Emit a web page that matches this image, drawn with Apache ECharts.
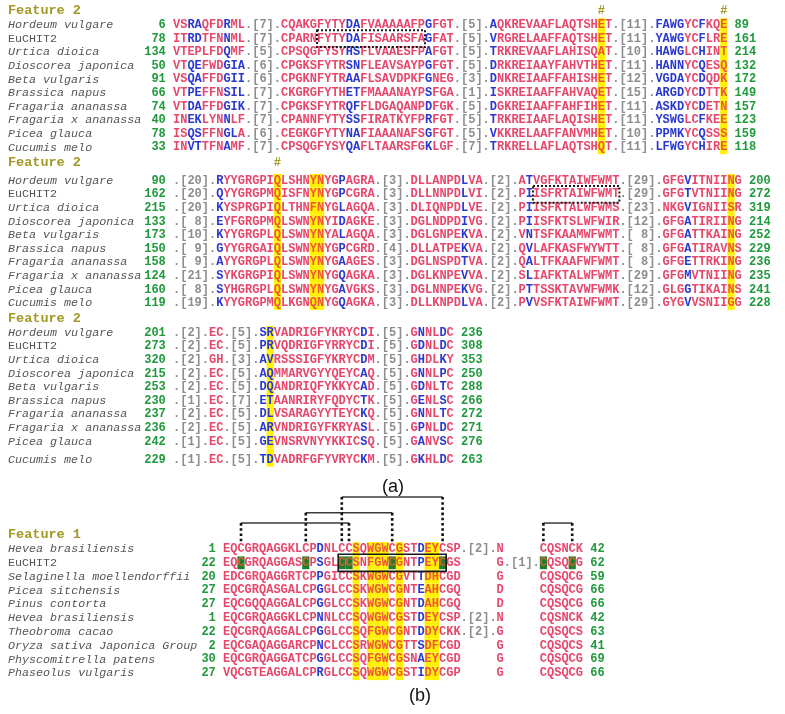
<!DOCTYPE html>
<html>
<head>
<meta charset="utf-8">
<script src="https://cdn.jsdelivr.net/npm/echarts@6/dist/echarts.min.js"></script>
<style>html,body{margin:0;padding:0;background:#fff}#c{width:785px;height:714px}</style>
</head>
<body>
<div id="c"></div>
<script>
// ================= DATA =================
// Upper-case = red residue, lower-case = blue residue, ".[n]." = gap markers (grey)
const aNames = ['Hordeum vulgare','EuCHIT2','Urtica dioica','Dioscorea japonica','Beta vulgaris',
  'Brassica napus','Fragaria ananassa','Fragaria x ananassa','Picea glauca','Cucumis melo'];

// (a) Feature 2 – block 1
const a1Start = [6,78,134,50,91,66,74,40,78,33];
const a1End   = [89,161,214,132,172,149,157,123,159,118];
const a1Seq = [
  'VSraQFDrML.[7].CQAKGFYTYdaFVAAAAAFPgFGT.[5].aQKREVAAFLAQTSHET.[11].fawgYCfKQE',
  'ITrdTFNnML.[7].CPARNFYTYdaFISAARSFAgFAT.[5].vRGRELAAFFAQTSHET.[11].yawgYCfLRE',
  'VTEPLFDqMF.[5].CPSQGFYSYhsFLVAAESFPaFGT.[5].tRKREVAAFLAHISQAT.[10].hawgLChINT',
  'VTqeFWDgia.[6].CPGKSFYTRsnFLEAVSAYPgFGT.[5].dRKREIAAYFAHVTHET.[11].hannYCqESQ',
  'VSqaFFDgii.[6].CPGKNFYTRaaFLSAVDPKFgNEG.[3].dNKREIAAFFAHISHET.[12].vgdaYCdQDK',
  'VTpeFFNsil.[7].CKGRGFYTHetFMAAANAYPsFGA.[1].iSKREIAAFFAHVAQET.[15].argdYCdTTK',
  'VTdaFFDgik.[7].CPGKSFYTRqfFLDGAQANPdFGK.[5].dGKREIAAFFAHFIHET.[11].askdYCdETN',
  'INekLYNnLF.[7].CPANNFYTYssFIRATKYFPrFGT.[5].tRKREIAAFLAQISHET.[11].yswgLCfKEE',
  'ISqsFFNglA.[6].CEGKGFYTYnaFIAAANAFSgFGT.[5].vKKRELAAFFANVMHET.[10].ppmkYCqSSS',
  'INvtTFNaMF.[7].CPSQGFYSYqaFLTAARSFGkLGF.[7].tRKRELLAFLAQTSHQT.[11].lfwgYChIRE'
];
const a1Marks  = [59, 76];          // '#' columns
const a1Yellow = [59, 76];          // highlighted columns
const a1Box    = [1, 20, 35];       // row, first column, end column (dotted box)

// (a) Feature 2 – block 2
const a2Start = [90,162,215,133,173,150,158,124,160,119];
const a2End   = [200,272,319,214,252,229,236,235,241,228];
const a2Seq = [
  '.[20].rYYGRGPIQLSHNYNYGpAGRA.[3].DLLANPDlVA.[2].AtVGFKTAIWFWMT.[29].GFGvITNIING',
  '.[20].qYYGRGPMQISFNYNYGpCGRA.[3].DLLNNPDlVI.[2].PiISFRTAIWFWMT.[29].GFGtVTNIING',
  '.[20].kYSPRGPIQLTHNFNYGlAGQA.[3].DLIQNPDlVE.[2].PiISFKTALWFWMS.[23].NKGvIGNIISR',
  '.[ 8].eYFGRGPMQLSWNYNYIdAGKE.[3].DGLNDPDiVG.[2].PiISFKTSLWFWIR.[12].GFGaTIRIING',
  '.[10].kYYGRGPLQLSWNYNYAlAGQA.[3].DGLGNPEkVA.[2].VnTSFKAAMWFWMT.[ 8].GFGaTTKAING',
  '.[ 9].gYYGRGAIQLSWNYNYGpCGRD.[4].DLLATPEkVA.[2].QvLAFKASFWYWTT.[ 8].GFGaTIRAVNS',
  '.[ 9].aYYGRGPLQLSWNYNYGaAGES.[3].DGLNSPDtVA.[2].QaLTFKAAFWFWMT.[ 8].GFGeTTRKING',
  '.[21].sYKGRGPIQLSWNYNYGqAGKA.[3].DGLKNPEvVA.[2].SlIAFKTALWFWMT.[29].GFGmVTNIING',
  '.[ 8].sYHGRGPLQLSWNYNYGaVGKS.[3].DGLNNPEkVG.[2].PtTSSKTAVWFWMK.[12].GLGgTIKAINS',
  '.[19].kYYGRGPMQLKGNQNYGqAGKA.[3].DLLKNPDlVA.[2].PvVSFKTAIWFWMT.[29].GYGvVSNIIGG'
];
const a2Marks  = [14];
const a2Yellow = [14, 19, 20, 77];
const a2Box    = [1, 50, 62];

// (a) Feature 2 – block 3
const a3Start = [201,273,320,215,253,230,237,236,242,229];
const a3End   = [236,308,353,250,288,266,272,271,276,263];
const a3Seq = [
  '.[2].EC.[5].srVADRIGFYKRYCdI.[5].GnNLdC',
  '.[2].EC.[5].prVQDRIGFYRRYCdI.[5].GdNLdC',
  '.[2].GH.[3].avRSSSIGFYKRYCdM.[5].GhDLkY',
  '.[2].EC.[5].aqMMARVGYYQEYCaQ.[5].GnNLpC',
  '.[2].EC.[5].dqANDRIQFYKKYCaD.[5].GdNLtC',
  '.[1].EC.[7].etAANRIRYFQDYCtK.[5].GeNLsC',
  '.[2].EC.[5].dlVSARAGYYTEYCkQ.[5].GnNLtC',
  '.[2].EC.[5].arVNDRIGYFKRYAsL.[5].GpNLdC',
  '.[1].EC.[5].geVNSRVNYYKKICsQ.[5].GaNVsC',
  '.[1].EC.[5].tdVADRFGFYVRYCkM.[5].GkHLdC'
];
const a3Marks  = [];
const a3Yellow = [13];

// (b) Feature 1
const bNames = ['Hevea brasiliensis','EuCHIT2','Selaginella moellendorffii','Picea sitchensis','Pinus contorta',
  'Hevea brasiliensis','Theobroma cacao','Oryza sativa Japonica Group','Physcomitrella patens','Phaseolus vulgaris'];
const bStart = [1,22,20,27,27,1,22,2,30,27];
const bEnd   = [42,62,59,66,66,42,63,41,69,66];
const bSeq = [
  'EQCGRQAGGKLCPdNLCCSQWGWCGSTdEYCSP.[2].N     CQSNCK',
  'EQCGRQAGGASCPsGLCCSNFGWCGNTpEYCGS     G.[1].CQSQCG',
  'EDCGRQAGGRTCPpGICCSKWGWCGVTtDHCGD     G     CQSQCG',
  'EQCGRQASGALCPgGLCCSKWGWCGNTeAHCGQ     D     CQSQCG',
  'EQCGQQAGGALCPgGLCCSKWGWCGNTdAHCGQ     D     CQSQCG',
  'EQCGRQAGGKLCPnNLCCSQWGWCGSTdEYCSP.[2].N     CQSNCK',
  'EQCGRQAGGALCPgGLCCSQFGWCGNTdDYCKK.[2].G     CQSQCS',
  'EQCGAQAGGARCPnCLCCSRWGWCGTTsDFCGD     G     CQSQCS',
  'EQCGRQAGGATCPgGLCCSQFGWCGSNaEYCGD     G     CQSQCG',
  'VQCGTEAGGALCPrGLCCSQWGWCGSTiDYCGP     G     CQSQCG'
];
const bYellow = [18, 20, 21, 22, 24, 28, 29];
const bGreen  = [[1,2],[1,11],[1,16],[1,17],[1,23],[1,30],[1,44],[1,48]]; // row, column
const bBox    = [1, 16, 31];
const bBonds  = [[2,17],[11,23],[16,30],[44,48]];   // disulfide cysteine columns

// ================= STYLE / LAYOUT =================
const RED='#e8476c', BLUE='#2a38d2', GRAY='#8d8d8d', GREEN='#1f9a3c', NAMEC='#555555',
      OLIVE='#a3992b', YEL='#fff100', DKG='#1f7d2d', RED_ON_YEL='#f0573a', ON_GREEN='#c7662a';
const MONO = '"Liberation Mono","DejaVu Sans Mono",monospace';
const SEQF = 'bold 12px ' + MONO;
const NAMEF_I = 'italic 11.7px ' + MONO;
const NAMEF = '11.7px ' + MONO;
const HEADF = 'bold 13.5px ' + MONO;

function charColor(ch){
  if (/[.\[\]0-9]/.test(ch)) return GRAY;
  if (ch >= 'a' && ch <= 'z') return BLUE;
  return RED;
}

const blocks = [
  {grid:0, line0:0,     head:-1.03, header:'Feature 2', nameCol:-22.92, names:aNames, starts:a1Start, ends:a1End, seqs:a1Seq, yellow:a1Yellow, marks:a1Marks},
  {grid:0, line0:11.45, head:10.15, header:'Feature 2', nameCol:-22.92, names:aNames, starts:a2Start, ends:a2End, seqs:a2Seq, yellow:a2Yellow, marks:a2Marks},
  {grid:0, line0:22.63, head:21.62, header:'Feature 2', nameCol:-22.92, names:aNames, starts:a3Start, ends:a3End, seqs:a3Seq, yellow:a3Yellow, marks:a3Marks,
   extra:[0,0,0,0,0,0,0,0,0,0.35]},
  {grid:1, line0:0,     head:-1.01, header:'Feature 1', nameCol:-29.86, names:bNames, starts:bStart, ends:bEnd, seqs:bSeq, yellow:bYellow, marks:[], green:bGreen}
];

function rowsSeries(b){
  return {
    type:'custom', xAxisIndex:b.grid, yAxisIndex:b.grid, clip:false, silent:true, z:2,
    data: b.seqs.map((s,i)=>[0,i]),
    renderItem(params, api){
      const i = api.value(1);
      const extra = (b.extra && b.extra[i]) || 0;
      const line = b.line0 + i + extra;
      const u = api.size([1,1]); const cw=u[0], rh=u[1];
      const seq = b.seqs[i];
      const kids = [];
      const greenCols = (b.green||[]).filter(g=>g[0]===i).map(g=>g[1]);
      b.yellow.forEach(c=>{
        const p = api.coord([c, line]);
        kids.push({type:'rect', shape:{x:p[0], y:p[1]-rh/2-extra*rh, width:cw, height:rh*(1+extra)}, style:{fill:YEL}});
      });
      greenCols.forEach(c=>{
        const p = api.coord([c, line]);
        kids.push({type:'rect', shape:{x:p[0], y:p[1]-rh/2+0.5, width:cw, height:rh-1}, style:{fill:DKG}});
      });
      for (let k=0;k<seq.length;k++){
        const ch = seq[k]; if (ch===' ') continue;
        const p = api.coord([k+0.5, line]);
        let col = charColor(ch);
        if (col===RED && b.yellow.indexOf(k)>=0) col = RED_ON_YEL;
        if (greenCols.indexOf(k)>=0) col = ON_GREEN;
        kids.push({type:'text', x:p[0], y:p[1], style:{text:ch.toUpperCase(), fill:col, font:SEQF, align:'center', verticalAlign:'middle'}});
      }
      const pn = api.coord([b.nameCol, line]);
      const nm = b.names[i];
      kids.push({type:'text', x:pn[0], y:pn[1], style:{text:nm, fill:NAMEC, font:(nm==='EuCHIT2'?NAMEF:NAMEF_I), align:'left', verticalAlign:'middle'}});
      const ps = api.coord([-1, line]);
      kids.push({type:'text', x:ps[0], y:ps[1], style:{text:String(b.starts[i]), fill:GREEN, font:SEQF, align:'right', verticalAlign:'middle'}});
      const pe = api.coord([seq.length+1, line]);
      kids.push({type:'text', x:pe[0], y:pe[1], style:{text:String(b.ends[i]), fill:GREEN, font:SEQF, align:'left', verticalAlign:'middle'}});
      return {type:'group', children:kids};
    }
  };
}

function headerSeries(b){
  return {
    type:'custom', xAxisIndex:b.grid, yAxisIndex:b.grid, clip:false, silent:true, z:3,
    data:[[0,0]],
    renderItem(params, api){
      const kids = [];
      const p = api.coord([b.nameCol, b.head]);
      kids.push({type:'text', x:p[0], y:p[1], style:{text:b.header, fill:OLIVE, font:HEADF, align:'left', verticalAlign:'middle'}});
      b.marks.forEach(c=>{
        const q = api.coord([c+0.5, b.head]);
        kids.push({type:'text', x:q[0], y:q[1], style:{text:'#', fill:OLIVE, font:SEQF, align:'center', verticalAlign:'middle'}});
      });
      return {type:'group', children:kids};
    }
  };
}

// boxes: [blockIndex, box, dashed]
const boxList = [[0, a1Box, true],[1, a2Box, true],[3, bBox, false]];
function boxSeries(gridIdx){
  const list = boxList.filter(d=>blocks[d[0]].grid===gridIdx);
  return {
    type:'custom', xAxisIndex:gridIdx, yAxisIndex:gridIdx, clip:false, silent:true, z:4,
    data: list.map((d,i)=>[0,i]),
    renderItem(params, api){
      const d = list[api.value(1)];
      const b = blocks[d[0]], bx = d[1];
      const line = b.line0 + bx[0];
      const p0 = api.coord([bx[1], line-0.62]);
      const p1 = api.coord([bx[2], line+0.62]);
      return {type:'rect', shape:{x:p0[0], y:p0[1], width:p1[0]-p0[0], height:p1[1]-p0[1]},
        style:{fill:null, stroke:'#1a1a1a', lineWidth:d[2]?2:1.6, lineDash:d[2]?[2,2]:null}};
    }
  };
}

const bondLevels = [-1.88, -2.62, -3.77, -1.88];
const bondFoot = -0.43;
const bondSeries = {
  type:'custom', xAxisIndex:1, yAxisIndex:1, clip:false, silent:true, z:3,
  data: bBonds.map((d,i)=>[0,i]),
  renderItem(params, api){
    const i = api.value(1);
    const pr = bBonds[i], lv = bondLevels[i];
    const a = api.coord([pr[0]+0.5, lv]), c = api.coord([pr[1]+0.5, lv]);
    const fa = api.coord([pr[0]+0.5, bondFoot]), fc = api.coord([pr[1]+0.5, bondFoot]);
    return {type:'group', children:[
      {type:'line', shape:{x1:a[0], y1:a[1], x2:c[0], y2:c[1]}, style:{stroke:'#3a3a3a', lineWidth:1.5}},
      {type:'line', shape:{x1:a[0], y1:a[1], x2:fa[0], y2:fa[1]}, style:{stroke:'#111', lineWidth:2.6, lineDash:[2.6,2.6]}},
      {type:'line', shape:{x1:c[0], y1:c[1], x2:fc[0], y2:fc[1]}, style:{stroke:'#111', lineWidth:2.6, lineDash:[2.6,2.6]}}
    ]};
  }
};

const series = [];
blocks.forEach(b=>{ series.push(rowsSeries(b)); series.push(headerSeries(b)); });
series.push(boxSeries(0), boxSeries(1), bondSeries);

const chart = echarts.init(document.getElementById('c'), null, {renderer:'canvas'});
chart.setOption({
  animation:false,
  backgroundColor:'#ffffff',
  grid:[
    {left:173, top:4.6, width:612, height:482.8},
    {left:223, top:493.8, width:561.6, height:186.3}
  ],
  xAxis:[
    {gridIndex:0, type:'value', min:0, max:85, show:false},
    {gridIndex:1, type:'value', min:0, max:78, show:false}
  ],
  yAxis:[
    {gridIndex:0, type:'value', min:-1.5, max:34, inverse:true, show:false},
    {gridIndex:1, type:'value', min:-4, max:9.5, inverse:true, show:false}
  ],
  graphic:[
    {type:'text', x:393, y:487, style:{text:'(a)', fill:'#111', font:'18px "Liberation Sans",sans-serif', align:'center', verticalAlign:'middle'}},
    {type:'text', x:420, y:696, style:{text:'(b)', fill:'#111', font:'18px "Liberation Sans",sans-serif', align:'center', verticalAlign:'middle'}}
  ],
  series:series
});
</script>
</body>
</html>
